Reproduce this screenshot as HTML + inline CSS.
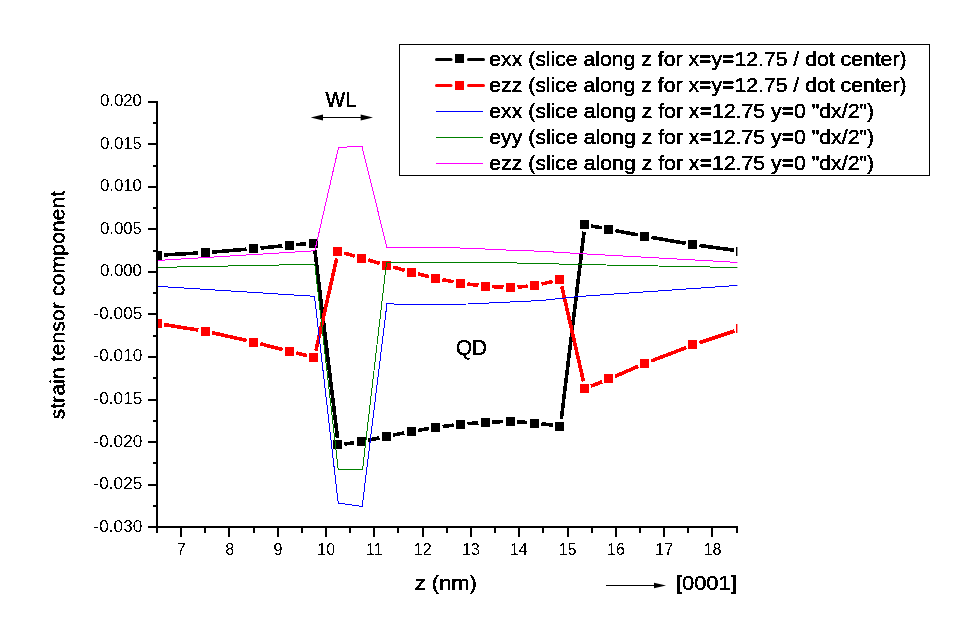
<!DOCTYPE html>
<html><head><meta charset="utf-8"><title>strain tensor component</title>
<style>
html,body{margin:0;padding:0;background:#fff;}
body{width:973px;height:639px;position:relative;overflow:hidden;font-family:"Liberation Sans",sans-serif;}
</style></head><body>
<svg width="973" height="639" viewBox="0 0 973 639" style="position:absolute;left:0;top:0;font-family:'Liberation Sans',sans-serif">
<rect width="973" height="639" fill="#fff"/>
<defs><filter id="th" x="-5%" y="-5%" width="110%" height="110%" color-interpolation-filters="sRGB"><feComponentTransfer><feFuncA type="discrete" tableValues="0 0 1 1 1"/></feComponentTransfer></filter><filter id="th2" x="-5%" y="-5%" width="110%" height="110%" color-interpolation-filters="sRGB"><feComponentTransfer><feFuncA type="discrete" tableValues="0 1"/></feComponentTransfer></filter></defs>
<defs><clipPath id="c"><rect x="156" y="90" width="581.4" height="440"/></clipPath></defs>
<g clip-path="url(#c)">
<g stroke="#000" stroke-width="3.6" fill="none" shape-rendering="crispEdges"><line x1="164.1" y1="254.9" x2="198.3" y2="253.0"/><line x1="212.3" y1="252.1" x2="246.5" y2="249.2"/><line x1="260.5" y1="248.0" x2="282.4" y2="245.9"/><line x1="296.4" y1="244.6" x2="306.3" y2="243.9"/><line x1="314.9" y1="250.2" x2="337.5" y2="438.0"/><line x1="344.4" y1="444.1" x2="354.4" y2="442.7"/><line x1="368.2" y1="440.3" x2="379.5" y2="437.8"/><line x1="393.2" y1="435.0" x2="404.3" y2="432.9"/><line x1="418.1" y1="430.4" x2="428.7" y2="428.6"/><line x1="442.6" y1="426.5" x2="453.6" y2="425.1"/><line x1="467.5" y1="423.7" x2="478.4" y2="422.8"/><line x1="492.4" y1="422.0" x2="503.2" y2="421.6"/><line x1="517.2" y1="421.8" x2="527.4" y2="422.5"/><line x1="541.4" y1="423.8" x2="552.8" y2="425.2"/><line x1="561.3" y1="419.2" x2="584.1" y2="231.7"/><line x1="591.1" y1="225.9" x2="601.7" y2="227.9"/><line x1="615.4" y1="230.6" x2="637.7" y2="234.9"/><line x1="651.4" y1="237.4" x2="685.7" y2="243.3"/><line x1="699.5" y1="245.5" x2="734.1" y2="250.2"/></g>
<g fill="#000" shape-rendering="crispEdges"><rect x="153" y="251" width="9" height="9"/><rect x="201" y="248" width="9" height="9"/><rect x="249" y="244" width="9" height="9"/><rect x="285" y="241" width="9" height="9"/><rect x="309" y="239" width="9" height="9"/><rect x="333" y="440" width="9" height="9"/><rect x="357" y="437" width="9" height="9"/><rect x="382" y="432" width="9" height="9"/><rect x="407" y="427" width="9" height="9"/><rect x="431" y="423" width="9" height="9"/><rect x="456" y="420" width="9" height="9"/><rect x="481" y="418" width="9" height="9"/><rect x="506" y="417" width="9" height="9"/><rect x="530" y="419" width="9" height="9"/><rect x="555" y="422" width="9" height="9"/><rect x="580" y="220" width="9" height="9"/><rect x="604" y="225" width="9" height="9"/><rect x="640" y="232" width="9" height="9"/><rect x="688" y="240" width="9" height="9"/><rect x="736" y="247" width="9" height="9"/></g>
<g stroke="#ff0000" stroke-width="3.6" fill="none" shape-rendering="crispEdges"><line x1="164.0" y1="324.6" x2="198.4" y2="330.1"/><line x1="212.2" y1="332.7" x2="246.7" y2="340.5"/><line x1="260.3" y1="343.8" x2="282.7" y2="349.6"/><line x1="296.3" y1="353.0" x2="306.8" y2="355.5"/><line x1="315.9" y1="350.6" x2="336.7" y2="258.4"/><line x1="344.3" y1="253.1" x2="354.7" y2="256.1"/><line x1="368.2" y1="260.0" x2="379.8" y2="263.4"/><line x1="393.3" y1="267.2" x2="404.6" y2="270.3"/><line x1="418.1" y1="273.8" x2="428.8" y2="276.6"/><line x1="442.4" y1="279.7" x2="453.5" y2="281.8"/><line x1="467.4" y1="284.0" x2="478.5" y2="285.3"/><line x1="492.4" y1="286.6" x2="503.5" y2="287.2"/><line x1="517.5" y1="287.1" x2="527.6" y2="286.2"/><line x1="541.5" y1="284.1" x2="552.7" y2="281.4"/><line x1="561.8" y1="286.3" x2="583.5" y2="381.5"/><line x1="590.9" y1="386.2" x2="602.1" y2="381.8"/><line x1="615.0" y1="376.4" x2="638.2" y2="366.3"/><line x1="651.1" y1="361.0" x2="686.2" y2="347.6"/><line x1="699.3" y1="342.8" x2="734.4" y2="331.0"/></g>
<g fill="#ff0000" shape-rendering="crispEdges"><rect x="153" y="319" width="9" height="9"/><rect x="201" y="327" width="9" height="9"/><rect x="249" y="338" width="9" height="9"/><rect x="285" y="347" width="9" height="9"/><rect x="309" y="353" width="9" height="9"/><rect x="333" y="247" width="9" height="9"/><rect x="357" y="254" width="9" height="9"/><rect x="382" y="261" width="9" height="9"/><rect x="407" y="268" width="9" height="9"/><rect x="431" y="274" width="9" height="9"/><rect x="456" y="279" width="9" height="9"/><rect x="481" y="282" width="9" height="9"/><rect x="506" y="283" width="9" height="9"/><rect x="530" y="281" width="9" height="9"/><rect x="555" y="275" width="9" height="9"/><rect x="580" y="384" width="9" height="9"/><rect x="604" y="374" width="9" height="9"/><rect x="640" y="359" width="9" height="9"/><rect x="688" y="340" width="9" height="9"/><rect x="736" y="324" width="9" height="9"/></g>
<polyline points="157.1,286.3 314.5,296.3 338.2,503.0 362.2,506.5 387.0,303.5 398.5,304.4 468.4,304.0 540.0,300.6 580.0,296.4 741.0,285.2" fill="none" stroke="#0000ff" stroke-width="1" shape-rendering="crispEdges"/>
<polyline points="157.1,267.4 314.8,264.3 338.2,469.3 362.6,469.3 386.5,262.5 495.0,262.5 580.0,264.5 741.0,267.6" fill="none" stroke="#008000" stroke-width="1" shape-rendering="crispEdges"/>
<polyline points="157.1,260.5 314.8,250.8 338.6,147.3 362.0,146.5 386.8,247.2 435.0,247.2 460.0,248.0 485.0,249.0 510.0,250.2 540.0,251.2 580.0,253.6 741.0,262.6" fill="none" stroke="#ff00ff" stroke-width="1" shape-rendering="crispEdges"/>
</g>
<g stroke="#000" stroke-width="2" fill="none" shape-rendering="crispEdges">
<line x1="157" y1="101" x2="157" y2="528"/>
<line x1="156" y1="527" x2="738" y2="527"/>
<line x1="148" y1="102" x2="157" y2="102"/>
<line x1="153" y1="123" x2="157" y2="123"/>
<line x1="148" y1="144" x2="157" y2="144"/>
<line x1="153" y1="166" x2="157" y2="166"/>
<line x1="148" y1="187" x2="157" y2="187"/>
<line x1="153" y1="208" x2="157" y2="208"/>
<line x1="148" y1="229" x2="157" y2="229"/>
<line x1="153" y1="251" x2="157" y2="251"/>
<line x1="148" y1="272" x2="157" y2="272"/>
<line x1="153" y1="293" x2="157" y2="293"/>
<line x1="148" y1="314" x2="157" y2="314"/>
<line x1="153" y1="336" x2="157" y2="336"/>
<line x1="148" y1="357" x2="157" y2="357"/>
<line x1="153" y1="378" x2="157" y2="378"/>
<line x1="148" y1="400" x2="157" y2="400"/>
<line x1="153" y1="421" x2="157" y2="421"/>
<line x1="148" y1="442" x2="157" y2="442"/>
<line x1="153" y1="463" x2="157" y2="463"/>
<line x1="148" y1="485" x2="157" y2="485"/>
<line x1="153" y1="506" x2="157" y2="506"/>
<line x1="148" y1="527" x2="157" y2="527"/>
<line x1="157" y1="527" x2="157" y2="533"/>
<line x1="181" y1="527" x2="181" y2="537"/>
<line x1="205" y1="527" x2="205" y2="533"/>
<line x1="229" y1="527" x2="229" y2="537"/>
<line x1="254" y1="527" x2="254" y2="533"/>
<line x1="278" y1="527" x2="278" y2="537"/>
<line x1="302" y1="527" x2="302" y2="533"/>
<line x1="326" y1="527" x2="326" y2="537"/>
<line x1="350" y1="527" x2="350" y2="533"/>
<line x1="374" y1="527" x2="374" y2="537"/>
<line x1="398" y1="527" x2="398" y2="533"/>
<line x1="423" y1="527" x2="423" y2="537"/>
<line x1="447" y1="527" x2="447" y2="533"/>
<line x1="471" y1="527" x2="471" y2="537"/>
<line x1="495" y1="527" x2="495" y2="533"/>
<line x1="519" y1="527" x2="519" y2="537"/>
<line x1="543" y1="527" x2="543" y2="533"/>
<line x1="568" y1="527" x2="568" y2="537"/>
<line x1="592" y1="527" x2="592" y2="533"/>
<line x1="616" y1="527" x2="616" y2="537"/>
<line x1="640" y1="527" x2="640" y2="533"/>
<line x1="664" y1="527" x2="664" y2="537"/>
<line x1="688" y1="527" x2="688" y2="533"/>
<line x1="712" y1="527" x2="712" y2="537"/>
<line x1="737" y1="527" x2="737" y2="533"/>
</g>
<g fill="#000" filter="url(#th2)">
<text transform="translate(99.90,106.10) scale(1.0500,1)" font-size="16">0.020</text>
<text transform="translate(99.90,148.66) scale(1.0500,1)" font-size="16">0.015</text>
<text transform="translate(99.90,191.22) scale(1.0500,1)" font-size="16">0.010</text>
<text transform="translate(99.90,233.78) scale(1.0500,1)" font-size="16">0.005</text>
<text transform="translate(99.90,276.34) scale(1.0500,1)" font-size="16">0.000</text>
<text transform="translate(93.53,318.90) scale(1.0750,1)" font-size="16">-0.005</text>
<text transform="translate(93.53,361.46) scale(1.0750,1)" font-size="16">-0.010</text>
<text transform="translate(93.53,404.02) scale(1.0750,1)" font-size="16">-0.015</text>
<text transform="translate(93.53,446.58) scale(1.0750,1)" font-size="16">-0.020</text>
<text transform="translate(93.53,489.14) scale(1.0750,1)" font-size="16">-0.025</text>
<text transform="translate(93.53,531.70) scale(1.0750,1)" font-size="16">-0.030</text>
<text transform="translate(176.85,555.00) scale(1.0000,1)" font-size="16">7</text>
<text transform="translate(225.15,555.00) scale(1.0000,1)" font-size="16">8</text>
<text transform="translate(273.45,555.00) scale(1.0000,1)" font-size="16">9</text>
<text transform="translate(317.25,555.00) scale(1.0000,1)" font-size="16">10</text>
<text transform="translate(366.05,555.00) scale(1.0000,1)" font-size="16">11</text>
<text transform="translate(413.85,555.00) scale(1.0000,1)" font-size="16">12</text>
<text transform="translate(462.15,555.00) scale(1.0000,1)" font-size="16">13</text>
<text transform="translate(509.95,555.00) scale(1.0000,1)" font-size="16">14</text>
<text transform="translate(558.75,555.00) scale(1.0000,1)" font-size="16">15</text>
<text transform="translate(607.05,555.00) scale(1.0000,1)" font-size="16">16</text>
<text transform="translate(655.35,555.00) scale(1.0000,1)" font-size="16">17</text>
<text transform="translate(703.65,555.00) scale(1.0000,1)" font-size="16">18</text>
</g>
<g fill="#000" stroke="#000" stroke-width="0.25" filter="url(#th)">
<text transform="translate(325.50,107.00) scale(0.9839,1)" font-size="21.2">WL</text>
<text transform="translate(455.92,354.50) scale(0.9800,1)" font-size="21.2">QD</text>
<text transform="translate(414.86,590.00) scale(1.0421,1)" font-size="21">z (nm)</text>
<text transform="translate(675.96,590.00) scale(1.0411,1)" font-size="21">[0001]</text>
<text transform="translate(489.24,65.60) scale(1.0607,1)" font-size="20">exx (slice along z for x=y=12.75 / dot center)</text>
<text transform="translate(489.24,91.60) scale(1.0607,1)" font-size="20">ezz (slice along z for x=y=12.75 / dot center)</text>
<text transform="translate(489.24,117.60) scale(1.0639,1)" font-size="20">exx (slice along z for x=12.75 y=0 &quot;dx/2&quot;)</text>
<text transform="translate(489.24,143.70) scale(1.0639,1)" font-size="20">eyy (slice along z for x=12.75 y=0 &quot;dx/2&quot;)</text>
<text transform="translate(489.24,169.70) scale(1.0639,1)" font-size="20">ezz (slice along z for x=12.75 y=0 &quot;dx/2&quot;)</text>
<text transform="translate(64.5,418.4) rotate(-90) translate(-1.02,0.00) scale(1.0156,1)" font-size="21">strain tensor component</text>
</g>
<g stroke="#000" stroke-width="1" fill="#000">
<line x1="316" y1="117.5" x2="368" y2="117.5"/>
<polygon points="310.7,117.5 323,114.5 323,120.5" stroke="none"/>
<polygon points="373,117.5 360.7,114.5 360.7,120.5" stroke="none"/>
<line x1="606" y1="585.5" x2="660" y2="585.5"/>
<polygon points="666,585.5 654,582.7 654,588.3" stroke="none"/>
</g>
<rect x="399.5" y="44.5" width="530" height="131" fill="none" stroke="#000" stroke-width="1" shape-rendering="crispEdges"/>
<g stroke="#000" stroke-width="3" stroke-linecap="round"><line x1="436.5" y1="59.5" x2="451" y2="59.5"/><line x1="468.5" y1="59.5" x2="483.5" y2="59.5"/></g>
<rect x="455" y="54.0" width="9" height="9" fill="#000" shape-rendering="crispEdges"/>
<g stroke="#ff0000" stroke-width="3" stroke-linecap="round"><line x1="436.5" y1="85.5" x2="451" y2="85.5"/><line x1="468.5" y1="85.5" x2="483.5" y2="85.5"/></g>
<rect x="455" y="81.0" width="9" height="9" fill="#ff0000" shape-rendering="crispEdges"/>
<line x1="436" y1="111.5" x2="483" y2="111.5" stroke="#0000ff" stroke-width="1" shape-rendering="crispEdges"/>
<line x1="436" y1="137.5" x2="483" y2="137.5" stroke="#008000" stroke-width="1" shape-rendering="crispEdges"/>
<line x1="436" y1="163.5" x2="483" y2="163.5" stroke="#ff00ff" stroke-width="1" shape-rendering="crispEdges"/>
</svg>
</body></html>
